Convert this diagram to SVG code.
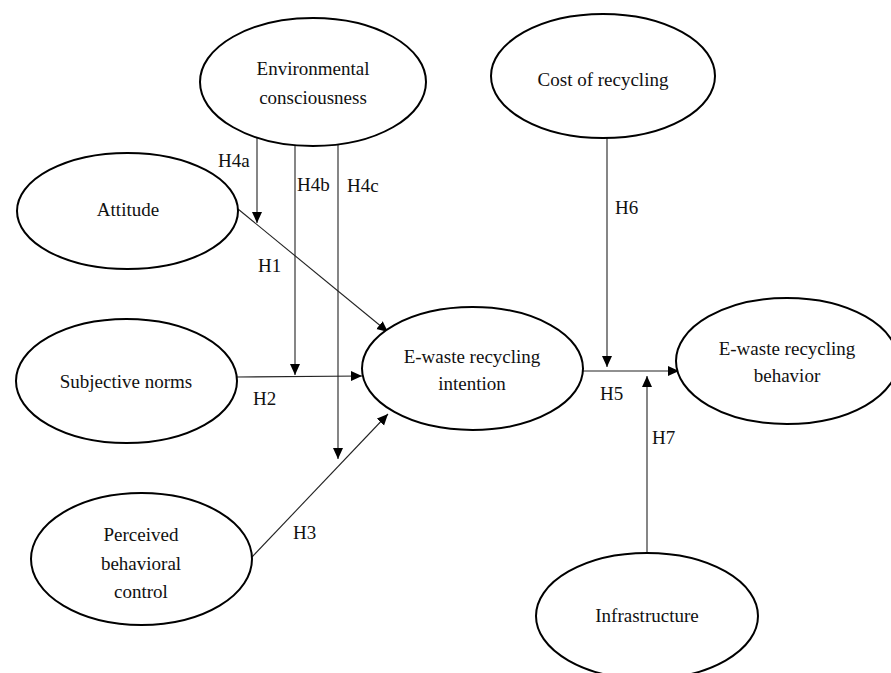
<svg xmlns="http://www.w3.org/2000/svg" width="891" height="673" viewBox="0 0 891 673">
<style>
.node ellipse{fill:#fff;stroke:#000;stroke-width:2}
text{font-family:"Liberation Serif","Times New Roman",serif;font-size:19px;fill:#111}
.node text{text-anchor:middle}
.conn line{stroke:#222;stroke-width:1.1;fill:none}
.arr{marker-end:url(#ah)}
</style>
<defs>
<marker id="ah" markerUnits="userSpaceOnUse" markerWidth="12" markerHeight="11" refX="11" refY="5" orient="auto">
<path d="M0,0 L11,5 L0,10 z" fill="#000"/>
</marker>
</defs>
<rect width="891" height="673" fill="#fff"/>
<g id="connectors" class="conn">
<line class="arr" x1="257" y1="138" x2="257" y2="223"/>
<line class="arr" x1="295" y1="145" x2="295" y2="375"/>
<line class="arr" x1="338" y1="144" x2="338" y2="459"/>
<line class="arr" x1="238" y1="209" x2="388" y2="332"/>
<line class="arr" x1="237" y1="377" x2="362" y2="376"/>
<line class="arr" x1="252" y1="557" x2="388" y2="414"/>
<line class="arr" x1="583" y1="371" x2="679" y2="371"/>
<line class="arr" x1="607" y1="138" x2="607" y2="367"/>
<line class="arr" x1="647" y1="553" x2="647" y2="376"/>
</g>
<g id="labels">
<text x="218" y="167">H4a</text>
<text x="297" y="191">H4b</text>
<text x="347" y="192">H4c</text>
<text x="258" y="272">H1</text>
<text x="253" y="405">H2</text>
<text x="293" y="539">H3</text>
<text x="600" y="400">H5</text>
<text x="615" y="214">H6</text>
<text x="652" y="444">H7</text>
</g>
<g id="env" class="node">
<ellipse cx="313" cy="82" rx="113" ry="64"/>
<text x="313" y="75">Environmental</text>
<text x="313" y="104">consciousness</text>
</g>
<g id="attitude" class="node">
<ellipse cx="127.5" cy="211" rx="110.5" ry="58"/>
<text x="128" y="216">Attitude</text>
</g>
<g id="subjective" class="node">
<ellipse cx="126.5" cy="381" rx="110.5" ry="62"/>
<text x="126" y="388">Subjective norms</text>
</g>
<g id="pbc" class="node">
<ellipse cx="141.5" cy="559" rx="110.5" ry="66"/>
<text x="141" y="541">Perceived</text>
<text x="141" y="570">behavioral</text>
<text x="141" y="598">control</text>
</g>
<g id="intention" class="node">
<ellipse cx="472.5" cy="368.5" rx="110.5" ry="61.5"/>
<text x="472" y="363">E-waste recycling</text>
<text x="472" y="390">intention</text>
</g>
<g id="cost" class="node">
<ellipse cx="603" cy="76" rx="112" ry="62"/>
<text x="603" y="86">Cost of recycling</text>
</g>
<g id="behavior" class="node">
<ellipse cx="787" cy="361" rx="111" ry="63"/>
<text x="787" y="355">E-waste recycling</text>
<text x="787" y="382">behavior</text>
</g>
<g id="infrastructure" class="node">
<ellipse cx="647" cy="616" rx="111" ry="63"/>
<text x="647" y="622">Infrastructure</text>
</g>
</svg>
